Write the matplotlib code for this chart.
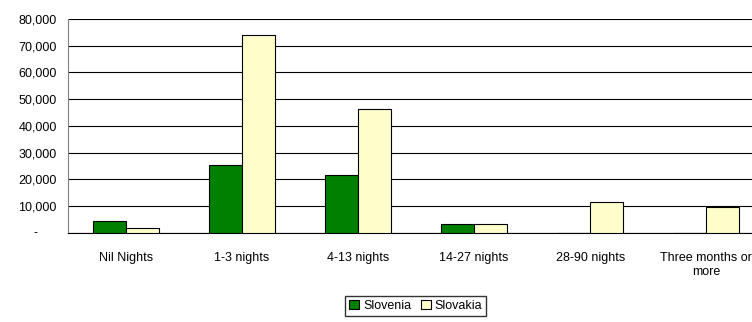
import matplotlib.pyplot as plt
import matplotlib.transforms as mtransforms
import numpy as np

plt.rcParams['font.family'] = ['Liberation Sans', 'DejaVu Sans']

categories = ["Nil Nights", "1-3 nights", "4-13 nights", "14-27 nights",
              "28-90 nights", "Three months or\nmore"]
slovenia = [4500, 25400, 21700, 3200, 0, 0]
slovakia = [1900, 74000, 46400, 3200, 11600, 9700]
yticks = [0, 10000, 20000, 30000, 40000, 50000, 60000, 70000, 80000]

fig = plt.figure(figsize=(7.52, 3.22), dpi=100)
ax = fig.add_axes([0.0904, 0.2764, 0.926, 0.6646])

pos = np.arange(len(categories))
width = 0.285
ax.bar(pos - width / 2, slovenia, width, color='#008000', edgecolor='black',
       linewidth=0.8, label='Slovenia', zorder=3)
ax.bar(pos + width / 2, slovakia, width, color='#FFFFCC', edgecolor='black',
       linewidth=0.8, label='Slovakia', zorder=3)

ax.set_xlim(-0.5, len(categories) - 0.5)
ax.set_ylim(0, 80000)
ax.set_yticks(yticks)
ax.set_yticklabels([''] + ['{:,}'.format(v) for v in yticks[1:]], fontsize=9)
# Excel accounting format shows zero as a dash set in from the right
trans = mtransforms.blended_transform_factory(ax.transAxes, ax.transData)
ax.text(-0.047, yticks[0], '-', transform=trans, ha='center', va='center',
        fontsize=9)
ax.set_xticks(pos)
ax.set_xticklabels(categories, fontsize=9)
ax.tick_params(axis='both', length=0, pad=8)
ax.tick_params(axis='x', pad=14)
ax.grid(axis='y', color='black', linewidth=0.8, zorder=0)
for s in ['top', 'right']:
    ax.spines[s].set_visible(False)
ax.spines['left'].set_color('#808080')
ax.spines['bottom'].set_color('black')

fig.legend(loc='lower center', bbox_to_anchor=(0.553, 0.0), ncol=2, fontsize=9,
           frameon=True, fancybox=False, edgecolor='black', handlelength=0.8,
           handleheight=0.8, handletextpad=0.3, columnspacing=0.8,
           borderpad=0.3)

fig.savefig('out.png', dpi=100)
